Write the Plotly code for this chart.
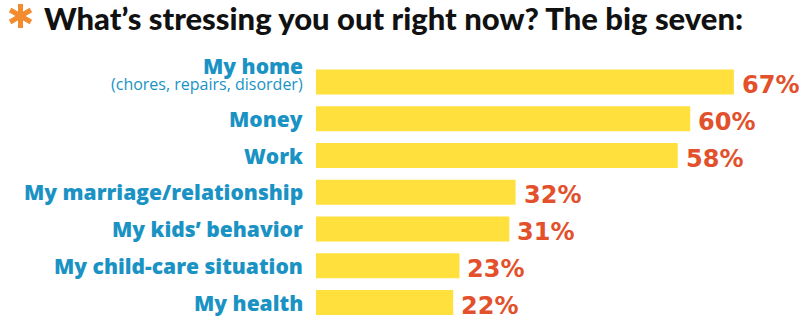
import math
import plotly.graph_objects as go

# Survey results: share of respondents naming each source of stress
categories = [
    "My home",
    "Money",
    "Work",
    "My marriage/relationship",
    "My kids\u2019 behavior",
    "My child-care situation",
    "My health",
]
subtitles = ["(chores, repairs, disorder)", "", "", "", "", "", ""]
values = [67, 60, 58, 32, 31, 23, 22]

title_text = "What\u2019s stressing you out right now? The big seven:"

BAR_YELLOW = "#ffe03c"
LABEL_BLUE = "#1a93c4"
VALUE_RED = "#e2512b"
STAR_ORANGE = "#f28c2e"

W, H = 800, 333
M_L, M_R, M_T, M_B = 316, 0, 63, 12
PLOT_W, PLOT_H = W - M_L - M_R, H - M_T - M_B

fig = go.Figure(
    go.Bar(
        x=values,
        y=categories,
        orientation="h",
        marker=dict(color=BAR_YELLOW, line=dict(width=0)),
        hoverinfo="skip",
    )
)

annotations = []
for cat, sub, val in zip(categories, subtitles, values):
    # category label to the left of the bar
    annotations.append(dict(
        x=0, xref="paper", y=cat, yref="y",
        xanchor="right", yanchor="middle", xshift=-11,
        yshift=16 if sub else 0,
        text=cat, showarrow=False,
        font=dict(family="Open Sans", size=21, color=LABEL_BLUE, weight=800),
    ))
    if sub:
        annotations.append(dict(
            x=0, xref="paper", y=cat, yref="y",
            xanchor="right", yanchor="middle", xshift=-11, yshift=-2,
            text=sub, showarrow=False,
            font=dict(family="Open Sans", size=16, color=LABEL_BLUE, weight=500),
        ))
    # value label at the end of the bar
    annotations.append(dict(
        x=val, xref="x", y=cat, yref="y",
        xanchor="left", yanchor="middle", xshift=6, yshift=-3,
        text=f"{val}%", showarrow=False,
        font=dict(family="DejaVu Sans", size=24, color=VALUE_RED, weight=700),
    ))

# orange six-spoke asterisk in front of the title, built from three strokes
star_cx, star_cy, star_r = 20.5, 16.0, 12.0
anchor_x = (star_cx - M_L) / PLOT_W
anchor_y = 1 + (M_T - star_cy) / PLOT_H
shapes = []
for ang in (90, 30, -30):
    dx = star_r * math.cos(math.radians(ang))
    dy = star_r * math.sin(math.radians(ang))
    shapes.append(dict(
        type="line", xref="paper", yref="paper",
        xsizemode="pixel", ysizemode="pixel",
        xanchor=anchor_x, yanchor=anchor_y,
        x0=-dx, x1=dx, y0=-dy, y1=dy,
        line=dict(color=STAR_ORANGE, width=5),
    ))

fig.update_layout(
    width=W, height=H,
    margin=dict(l=M_L, r=M_R, t=M_T, b=M_B),
    paper_bgcolor="white", plot_bgcolor="white",
    title=dict(
        text=title_text,
        x=44 / W, xref="container", xanchor="left",
        y=1, yref="container", yanchor="top",
        pad=dict(t=8, l=0),
        font=dict(family="Lato", size=31, color="#111111", weight=900),
    ),
    bargap=0.32,
    showlegend=False,
    xaxis=dict(range=[0, 77.6], visible=False, fixedrange=True),
    yaxis=dict(autorange="reversed", visible=False, fixedrange=True),
    annotations=annotations,
    shapes=shapes,
)

fig.write_html("out.html")
